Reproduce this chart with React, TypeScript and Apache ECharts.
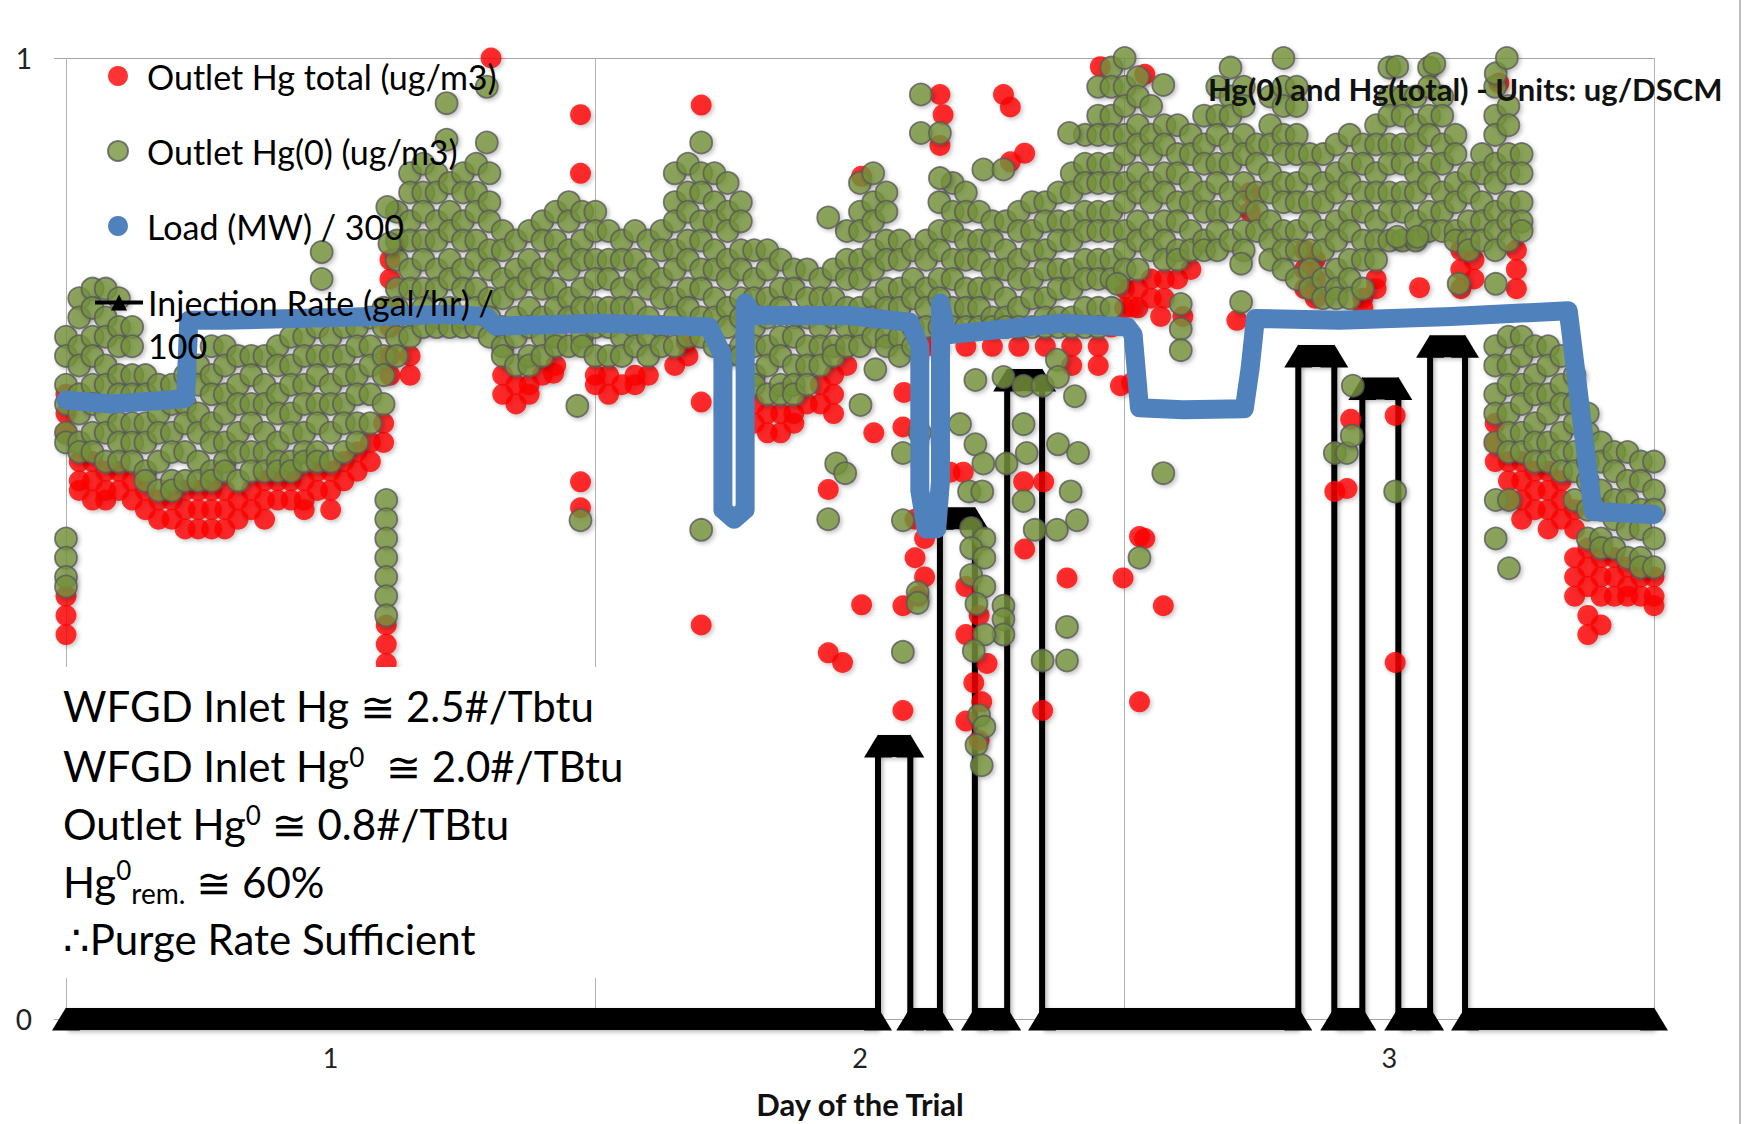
import React, { useEffect, useRef } from 'react';
import * as echarts from 'echarts';

// ---------- axis categories / ticks ----------
const dayLabels = ['1', '2', '3'];
const yMin = 0;
const yMax = 1;

// ---------- Outlet Hg(0) (ug/m3): columns [day, values read top->bottom] ----------
const hg0ColsDay1: [number, number[]][] = [
  [0.000, [0.71, 0.69, 0.66, 0.64, 0.61, 0.60]],
  [0.000, [0.50, 0.48, 0.46, 0.45]],
  [0.025, [0.75, 0.73, 0.70, 0.68, 0.65, 0.63, 0.60, 0.59]],
  [0.050, [0.76, 0.74, 0.71, 0.69, 0.66, 0.64, 0.61, 0.59]],
  [0.075, [0.76, 0.73, 0.71, 0.68, 0.66, 0.63, 0.61, 0.58]],
  [0.100, [0.75, 0.72, 0.70, 0.67, 0.65, 0.62, 0.60, 0.58]],
  [0.125, [0.72, 0.70, 0.67, 0.65, 0.62, 0.60, 0.58]],
  [0.150, [0.67, 0.65, 0.62, 0.60, 0.57, 0.56]],
  [0.175, [0.66, 0.63, 0.61, 0.58, 0.55]],
  [0.200, [0.66, 0.64, 0.61, 0.59, 0.56, 0.55]],
  [0.225, [0.67, 0.64, 0.62, 0.59, 0.56]],
  [0.250, [0.68, 0.66, 0.63, 0.61, 0.58, 0.56]],
  [0.275, [0.70, 0.67, 0.65, 0.62, 0.60, 0.57, 0.56]],
  [0.300, [0.70, 0.68, 0.65, 0.63, 0.60, 0.58, 0.57]],
  [0.325, [0.69, 0.66, 0.64, 0.61, 0.59, 0.56]],
  [0.350, [0.69, 0.67, 0.64, 0.62, 0.59, 0.57]],
  [0.375, [0.69, 0.66, 0.64, 0.61, 0.59, 0.57]],
  [0.400, [0.70, 0.68, 0.65, 0.63, 0.60, 0.58, 0.57]],
  [0.425, [0.71, 0.68, 0.66, 0.63, 0.61, 0.58, 0.57]],
  [0.450, [0.71, 0.69, 0.66, 0.64, 0.61, 0.59, 0.58]],
  [0.475, [0.72, 0.69, 0.67, 0.64, 0.62, 0.59, 0.58]],
  [0.500, [0.71, 0.69, 0.66, 0.64, 0.61, 0.58]],
  [0.525, [0.72, 0.69, 0.67, 0.64, 0.62, 0.59]],
  [0.550, [0.72, 0.70, 0.67, 0.65, 0.62, 0.60]],
  [0.575, [0.73, 0.70, 0.68, 0.65, 0.62]],
  [0.600, [0.74, 0.72, 0.69, 0.67, 0.64]],
  [0.605, [0.54, 0.52, 0.50, 0.48, 0.46, 0.44, 0.42]],
  [0.625, [0.84, 0.81, 0.79, 0.76, 0.74, 0.71, 0.69]],
  [0.650, [0.88, 0.86, 0.83, 0.81, 0.78, 0.76, 0.73, 0.71]],
  [0.675, [0.89, 0.86, 0.84, 0.81, 0.79, 0.76, 0.74, 0.72]],
  [0.700, [0.88, 0.86, 0.83, 0.81, 0.78, 0.76, 0.73, 0.72]],
  [0.725, [0.87, 0.84, 0.82, 0.79, 0.77, 0.74, 0.72]],
  [0.750, [0.88, 0.86, 0.83, 0.81, 0.78, 0.76, 0.73, 0.72]],
  [0.775, [0.89, 0.86, 0.84, 0.81, 0.79, 0.76, 0.74, 0.72]],
  [0.800, [0.88, 0.85, 0.83, 0.80, 0.78, 0.75, 0.73, 0.71]],
  [0.825, [0.82, 0.80, 0.77, 0.75, 0.72, 0.70, 0.69]],
  [0.850, [0.81, 0.78, 0.76, 0.73, 0.71, 0.68]],
  [0.875, [0.82, 0.79, 0.77, 0.74, 0.72, 0.69, 0.68]],
  [0.900, [0.83, 0.81, 0.78, 0.76, 0.73, 0.71, 0.69]],
  [0.925, [0.84, 0.81, 0.79, 0.76, 0.74, 0.71, 0.70]],
  [0.950, [0.85, 0.83, 0.80, 0.78, 0.75, 0.73, 0.70]],
  [0.975, [0.84, 0.81, 0.79, 0.76, 0.74, 0.71, 0.70]],
];

const hg0ColsDay2: [number, number[]][] = [
  [1.000, [0.84, 0.82, 0.79, 0.77, 0.74, 0.72, 0.69]],
  [1.025, [0.82, 0.79, 0.77, 0.74, 0.72, 0.69]],
  [1.050, [0.81, 0.79, 0.76, 0.74, 0.71, 0.69]],
  [1.075, [0.82, 0.79, 0.77, 0.74, 0.72, 0.70]],
  [1.100, [0.81, 0.78, 0.76, 0.73, 0.71, 0.69]],
  [1.125, [0.82, 0.80, 0.77, 0.75, 0.72, 0.70]],
  [1.150, [0.88, 0.85, 0.83, 0.80, 0.78, 0.75, 0.73, 0.70]],
  [1.175, [0.89, 0.86, 0.84, 0.81, 0.79, 0.76, 0.74, 0.71]],
  [1.200, [0.88, 0.86, 0.83, 0.81, 0.78, 0.76, 0.73, 0.71]],
  [1.225, [0.88, 0.85, 0.83, 0.80, 0.78, 0.75, 0.73, 0.70]],
  [1.250, [0.87, 0.84, 0.82, 0.79, 0.77, 0.74, 0.72, 0.69]],
  [1.275, [0.85, 0.83, 0.80, 0.78, 0.75, 0.73, 0.70, 0.69]],
  [1.300, [0.80, 0.77, 0.75, 0.72, 0.70, 0.67, 0.66]],
  [1.325, [0.80, 0.78, 0.75, 0.73, 0.70, 0.68, 0.65]],
  [1.350, [0.79, 0.76, 0.74, 0.71, 0.69, 0.66, 0.65]],
  [1.375, [0.78, 0.76, 0.73, 0.71, 0.68, 0.66, 0.65]],
  [1.400, [0.78, 0.75, 0.73, 0.70, 0.68, 0.66]],
  [1.425, [0.77, 0.75, 0.72, 0.70, 0.68]],
  [1.450, [0.78, 0.75, 0.73, 0.70, 0.69]],
  [1.475, [0.82, 0.79, 0.77, 0.74, 0.72, 0.70]],
  [1.500, [0.87, 0.84, 0.82, 0.79, 0.77, 0.74, 0.72, 0.70]],
  [1.525, [0.88, 0.85, 0.83, 0.80, 0.78, 0.75, 0.73, 0.71]],
  [1.550, [0.86, 0.84, 0.81, 0.79, 0.76, 0.74, 0.71, 0.70]],
  [1.575, [0.81, 0.79, 0.76, 0.74, 0.71, 0.69]],
  [1.600, [0.80, 0.77, 0.75, 0.72, 0.70]],
  [1.625, [0.81, 0.79, 0.76, 0.74, 0.72]],
  [1.650, [0.85, 0.82, 0.80, 0.77, 0.75, 0.72]],
  [1.675, [0.87, 0.84, 0.82, 0.79, 0.77, 0.74, 0.72]],
  [1.700, [0.86, 0.84, 0.81, 0.79, 0.76, 0.74, 0.72]],
  [1.725, [0.84, 0.81, 0.79, 0.76, 0.74, 0.72]],
  [1.750, [0.83, 0.81, 0.78, 0.76, 0.73, 0.72]],
  [1.775, [0.83, 0.80, 0.78, 0.75, 0.73, 0.72]],
  [1.800, [0.84, 0.82, 0.79, 0.77, 0.74, 0.72]],
  [1.825, [0.85, 0.82, 0.80, 0.77, 0.75, 0.72]],
  [1.850, [0.85, 0.83, 0.80, 0.78, 0.75, 0.73, 0.72]],
  [1.875, [0.86, 0.83, 0.81, 0.78, 0.76, 0.73, 0.72]],
  [1.900, [0.88, 0.86, 0.83, 0.81, 0.78, 0.76, 0.73, 0.72]],
  [1.925, [0.92, 0.89, 0.87, 0.84, 0.82, 0.79, 0.77, 0.74, 0.72]],
  [1.950, [0.97, 0.94, 0.92, 0.89, 0.87, 0.84, 0.82, 0.79, 0.77, 0.74, 0.72]],
  [1.975, [0.99, 0.97, 0.94, 0.92, 0.89, 0.87, 0.84, 0.82, 0.79, 0.77, 0.74]],
];

const hg0ColsDay3: [number, number[]][] = [
  [2.000, [1.00, 0.97, 0.95, 0.92, 0.90, 0.87, 0.85, 0.82, 0.80, 0.78]],
  [2.025, [0.98, 0.96, 0.93, 0.91, 0.88, 0.86, 0.83, 0.81, 0.78]],
  [2.050, [0.95, 0.92, 0.90, 0.87, 0.85, 0.82, 0.80]],
  [2.075, [0.93, 0.91, 0.88, 0.86, 0.83, 0.81, 0.79]],
  [2.100, [0.93, 0.90, 0.88, 0.85, 0.83, 0.80, 0.79]],
  [2.125, [0.92, 0.90, 0.87, 0.85, 0.82, 0.80]],
  [2.150, [0.94, 0.91, 0.89, 0.86, 0.84, 0.81, 0.80]],
  [2.175, [0.97, 0.94, 0.92, 0.89, 0.87, 0.84, 0.82, 0.80]],
  [2.200, [0.99, 0.96, 0.94, 0.91, 0.89, 0.86, 0.84, 0.81]],
  [2.225, [0.97, 0.95, 0.92, 0.90, 0.87, 0.85, 0.82, 0.80]],
  [2.250, [0.91, 0.89, 0.86, 0.84, 0.82]],
  [2.275, [0.96, 0.93, 0.91, 0.88, 0.86, 0.83, 0.81, 0.79]],
  [2.300, [1.00, 0.97, 0.95, 0.92, 0.90, 0.87, 0.85, 0.82, 0.80, 0.78]],
  [2.325, [0.97, 0.95, 0.92, 0.90, 0.87, 0.85, 0.82, 0.80, 0.77]],
  [2.350, [0.90, 0.88, 0.85, 0.83, 0.80, 0.78, 0.76]],
  [2.375, [0.90, 0.87, 0.85, 0.82, 0.80, 0.77, 0.75]],
  [2.400, [0.91, 0.88, 0.86, 0.83, 0.81, 0.78, 0.76, 0.75]],
  [2.425, [0.92, 0.89, 0.87, 0.84, 0.82, 0.79, 0.77, 0.75]],
  [2.450, [0.91, 0.89, 0.86, 0.84, 0.81, 0.79, 0.76]],
  [2.475, [0.93, 0.91, 0.88, 0.86, 0.83, 0.81, 0.79]],
  [2.500, [0.99, 0.96, 0.94, 0.91, 0.89, 0.86, 0.84, 0.81]],
  [2.525, [0.96, 0.94, 0.91, 0.89, 0.86, 0.84, 0.81]],
  [2.550, [0.96, 0.93, 0.91, 0.88, 0.86, 0.83, 0.81]],
  [2.575, [0.99, 0.97, 0.94, 0.92, 0.89, 0.87, 0.84, 0.82]],
  [2.600, [0.96, 0.94, 0.91, 0.89, 0.86, 0.84, 0.82]],
  [2.625, [0.92, 0.90, 0.87, 0.85, 0.82, 0.81]],
  [2.650, [0.88, 0.86, 0.83, 0.81, 0.80]],
  [2.675, [0.90, 0.88, 0.85, 0.83, 0.81]],
  [2.700, [0.97, 0.94, 0.92, 0.89, 0.87, 0.84, 0.82, 0.80]],
  [2.725, [0.95, 0.93, 0.90, 0.88, 0.85, 0.83, 0.81]],
  [2.750, [0.90, 0.88, 0.85, 0.83, 0.82]],
  [2.700, [0.70, 0.68, 0.65, 0.63, 0.60]],
  [2.725, [0.71, 0.68, 0.66, 0.63, 0.61, 0.59]],
  [2.750, [0.71, 0.69, 0.66, 0.64, 0.61, 0.59]],
  [2.775, [0.70, 0.67, 0.65, 0.62, 0.60, 0.58]],
  [2.800, [0.70, 0.68, 0.65, 0.63, 0.60, 0.58]],
  [2.825, [0.69, 0.66, 0.64, 0.61, 0.59, 0.57]],
  [2.850, [0.67, 0.64, 0.62, 0.59, 0.57, 0.54]],
  [2.875, [0.63, 0.61, 0.58, 0.56, 0.53, 0.50]],
  [2.900, [0.60, 0.58, 0.55, 0.53, 0.50, 0.49]],
  [2.925, [0.59, 0.57, 0.54, 0.52, 0.49]],
  [2.950, [0.59, 0.56, 0.54, 0.51, 0.48]],
  [2.975, [0.58, 0.56, 0.53, 0.51, 0.48, 0.47]],
  [3.000, [0.58, 0.55, 0.53, 0.50, 0.47]],
];

// isolated Hg(0) readings [day, value]
const hg0Points: [number, number][] = [
  [0.483, 0.798], [0.483, 0.770], [0.607, 0.845], [0.611, 0.807], [0.719, 0.953], [0.719, 0.915],
  [0.795, 0.970], [0.795, 0.912], [0.966, 0.638], [0.972, 0.519], [1.200, 0.912], [1.200, 0.509],
  [1.440, 0.834], [1.440, 0.520], [1.455, 0.578], [1.472, 0.568], [1.501, 0.639], [1.529, 0.676],
  [1.581, 0.589], [1.581, 0.519], [1.581, 0.382], [1.609, 0.444], [1.609, 0.433], [1.613, 0.610],
  [1.615, 0.962], [1.615, 0.922], [1.651, 0.922], [1.651, 0.875], [1.689, 0.619], [1.706, 0.549],
  [1.718, 0.665], [1.718, 0.598], [1.731, 0.549], [1.733, 0.578], [1.733, 0.884], [1.771, 0.884],
  [1.771, 0.668], [1.771, 0.430], [1.771, 0.416], [1.771, 0.400], [1.777, 0.578], [1.809, 0.659],
  [1.809, 0.619], [1.809, 0.539], [1.815, 0.589], [1.830, 0.509], [1.845, 0.659], [1.845, 0.373],
  [1.872, 0.686], [1.872, 0.509], [1.874, 0.668], [1.874, 0.598], [1.891, 0.373], [1.891, 0.408],
  [1.895, 0.922], [1.898, 0.549], [1.906, 0.648], [1.910, 0.519], [1.912, 0.589], [1.986, 0.765],
  [2.028, 0.480], [2.073, 0.972], [2.073, 0.568], [2.106, 0.744], [2.106, 0.718], [2.106, 0.696],
  [2.220, 0.786], [2.220, 0.746], [2.397, 0.589], [2.420, 0.589], [2.429, 0.607], [2.431, 0.659],
  [2.511, 0.549], [2.515, 0.991], [2.515, 0.814], [2.553, 0.814], [2.585, 0.994], [2.631, 0.765],
  [2.701, 0.765], [2.701, 0.984], [2.722, 1.000], [2.701, 0.540], [2.726, 0.540], [2.701, 0.500],
  [2.726, 0.469],
  [1.710, 0.511], [1.735, 0.500], [1.710, 0.490], [1.735, 0.480], [1.710, 0.462], [1.735, 0.450],
  [1.720, 0.432], [1.735, 0.400], [1.715, 0.383], [1.725, 0.316], [1.735, 0.304], [1.720, 0.285],
  [1.730, 0.264],
];

// ---------- Outlet Hg total (ug/m3) ----------
const hgTotalCols: [number, number[]][] = [
  [0.000, [0.65, 0.63, 0.61]], [0.000, [0.44, 0.42, 0.40]],
  [0.025, [0.58, 0.56, 0.55]], [0.050, [0.58, 0.56, 0.54]], [0.075, [0.57, 0.55, 0.54]],
  [0.100, [0.57, 0.55]], [0.125, [0.56, 0.54]], [0.150, [0.55, 0.53]], [0.175, [0.54, 0.52]],
  [0.200, [0.54, 0.52]], [0.225, [0.55, 0.53, 0.51]], [0.250, [0.55, 0.53, 0.51]],
  [0.275, [0.55, 0.53, 0.51]], [0.300, [0.55, 0.53, 0.51]], [0.325, [0.54, 0.52]],
  [0.350, [0.55, 0.53]], [0.375, [0.56, 0.54, 0.52]], [0.400, [0.56, 0.54]], [0.425, [0.56, 0.54]],
  [0.450, [0.56, 0.54, 0.53]], [0.475, [0.57, 0.55]], [0.500, [0.57, 0.55, 0.53]],
  [0.525, [0.58, 0.56]], [0.550, [0.59, 0.57]], [0.575, [0.60, 0.58]], [0.600, [0.62, 0.60]],
  [0.605, [0.41, 0.39, 0.37]], [0.612, [0.79, 0.77, 0.74, 0.72, 0.69, 0.67]], [0.650, [0.69, 0.67]],
  [0.825, [0.67, 0.65]], [0.850, [0.66, 0.64]], [0.875, [0.66, 0.65]], [0.900, [0.67]], [0.925, [0.68]],
  [1.000, [0.67, 0.66]], [1.025, [0.67, 0.65]], [1.050, [0.66]], [1.075, [0.67, 0.66]], [1.100, [0.67]],
  [1.150, [0.68]], [1.175, [0.69]],
  [1.300, [0.64, 0.62]], [1.325, [0.63, 0.61]], [1.350, [0.63, 0.61]], [1.375, [0.63, 0.62]],
  [1.400, [0.64]], [1.425, [0.66, 0.64]], [1.450, [0.67, 0.65, 0.63]], [1.475, [0.68]],
  [1.625, [0.70]], [1.650, [0.70]], [1.700, [0.70]], [1.750, [0.70]], [1.800, [0.70]], [1.850, [0.70]],
  [1.900, [0.70, 0.68]], [1.950, [0.70, 0.68]], [1.975, [0.72]],
  [2.000, [0.76, 0.74]], [2.025, [0.76, 0.74]], [2.050, [0.77, 0.75]], [2.075, [0.77, 0.75]],
  [2.100, [0.77]], [2.125, [0.78]], [2.237, [0.86, 0.84]], [2.340, [0.80, 0.78, 0.76]],
  [2.360, [0.79, 0.77, 0.75]], [2.450, [0.75, 0.74]], [2.475, [0.77, 0.76]],
  [2.635, [0.80, 0.78, 0.76]], [2.660, [0.79, 0.77]], [2.740, [0.80, 0.78, 0.76]],
  [2.700, [0.62, 0.60, 0.58]], [2.725, [0.58, 0.56, 0.54]], [2.750, [0.58, 0.56, 0.54, 0.52]],
  [2.775, [0.57, 0.55, 0.53]], [2.800, [0.57, 0.55, 0.53, 0.51]], [2.825, [0.56, 0.54, 0.52]],
  [2.850, [0.53, 0.51, 0.48, 0.46, 0.44]], [2.875, [0.49, 0.47, 0.45, 0.42, 0.40]],
  [2.900, [0.48, 0.46, 0.44, 0.41]], [2.925, [0.48, 0.46, 0.44]], [2.950, [0.47, 0.45, 0.44]],
  [2.975, [0.46, 0.44]], [3.000, [0.46, 0.44, 0.43]],
];

const hgTotalPoints: [number, number][] = [
  [0.803, 1.000], [0.972, 0.941], [0.972, 0.880], [0.972, 0.559], [0.972, 0.532], [0.921, 0.672],
  [1.200, 0.951], [1.200, 0.642], [1.172, 0.704], [1.200, 0.410], [1.440, 0.551], [1.440, 0.381],
  [1.467, 0.371], [1.503, 0.877], [1.503, 0.431], [1.526, 0.610], [1.581, 0.616], [1.581, 0.430],
  [1.581, 0.321], [1.583, 0.652], [1.651, 0.962], [1.657, 0.941], [1.651, 0.909], [1.670, 0.569],
  [1.695, 0.569], [1.771, 0.962], [1.784, 0.949], [1.811, 0.901], [1.784, 0.892], [1.809, 0.559],
  [1.847, 0.559], [1.811, 0.489], [1.845, 0.321], [1.891, 0.459], [1.954, 0.991], [1.992, 0.659],
  [1.997, 0.459], [2.028, 0.502], [2.028, 0.330], [2.038, 0.983], [2.038, 0.500], [2.013, 0.741],
  [2.068, 0.731], [2.110, 0.731], [2.013, 0.662], [2.073, 0.430], [2.212, 0.727], [2.397, 0.549],
  [2.420, 0.552], [2.427, 0.624], [2.511, 0.628], [2.511, 0.371], [2.557, 0.761], [2.707, 0.974],
  [1.604, 0.520], [1.622, 0.500], [1.604, 0.480], [1.622, 0.460], [1.610, 0.440],
  [1.700, 0.450], [1.725, 0.420], [1.700, 0.400], [1.740, 0.370], [1.715, 0.350], [1.730, 0.330],
  [1.700, 0.310], [1.725, 0.290],
];

// ---------- Load (MW) / 300 trace [day, value] ----------
const loadTrace: [number, number][] = [
  [0.000, 0.644], [0.086, 0.640], [0.192, 0.644], [0.226, 0.646], [0.232, 0.727], [0.297, 0.727],
  [0.508, 0.730], [0.719, 0.733], [0.793, 0.731], [0.812, 0.721], [1.014, 0.724], [1.215, 0.720],
  [1.241, 0.690], [1.241, 0.530], [1.262, 0.520], [1.283, 0.530], [1.283, 0.745], [1.300, 0.732],
  [1.478, 0.732], [1.594, 0.725], [1.613, 0.700], [1.613, 0.550], [1.625, 0.510], [1.645, 0.510],
  [1.652, 0.560], [1.652, 0.745], [1.665, 0.712], [1.773, 0.718], [1.879, 0.724], [2.005, 0.720],
  [2.016, 0.712], [2.028, 0.636], [2.110, 0.634], [2.226, 0.635], [2.237, 0.677], [2.247, 0.729],
  [2.406, 0.727], [2.617, 0.731], [2.838, 0.737], [2.885, 0.528], [3.000, 0.525],
];

// ---------- Injection Rate (gal/hr) / 100 [day, value] ----------
const injectionRate: [number, number][] = [
  [0.000, 0], [1.534, 0], [1.534, 0.284], [1.595, 0.284], [1.595, 0],
  [1.651, 0], [1.651, 0.521], [1.717, 0.521], [1.717, 0],
  [1.778, 0], [1.778, 0.665], [1.844, 0.665], [1.844, 0],
  [2.328, 0], [2.328, 0.690], [2.396, 0.690], [2.396, 0],
  [2.449, 0], [2.449, 0.656], [2.517, 0.656], [2.517, 0],
  [2.577, 0], [2.577, 0.700], [2.643, 0.700], [2.643, 0],
  [3.000, 0],
];

// ---------- annotation lines ----------
const noteLines = [
  'WFGD Inlet Hg ≅ 2.5#/Tbtu',
  'WFGD Inlet Hg{sup|0}  ≅ 2.0#/TBtu',
  'Outlet Hg{sup|0} ≅ 0.8#/TBtu',
  'Hg{sup|0}{sub|rem.} ≅ 60%',
  '∴Purge Rate Sufficient',
];

const NAME_TOTAL = 'Outlet Hg total (ug/m3)';
const NAME_HG0 = 'Outlet Hg(0) (ug/m3)';
const NAME_LOAD = 'Load (MW) / 300';
const NAME_INJ = 'Injection Rate (gal/hr) / 100';

const FONT = 'Lato, "Noto Sans", "DejaVu Sans", sans-serif';

export default function App() {
  const ref = useRef<HTMLDivElement>(null);

  useEffect(() => {
    if (!ref.current) return;
    const chart = echarts.init(ref.current, null, { renderer: 'svg' });

    const fromCols = (cols: [number, number[]][]) =>
      cols.flatMap(([d, vs]) => vs.map((v) => [d, v]));

    const hg0Data = [...fromCols(hg0ColsDay1), ...fromCols(hg0ColsDay2), ...fromCols(hg0ColsDay3), ...hg0Points];
    const totalData = [...fromCols(hgTotalCols), ...hgTotalPoints];

    // thick band along the horizontal runs of the injection series
    const band: any[] = [];
    for (let i = 0; i < injectionRate.length - 1; i++) {
      const a = injectionRate[i];
      const b = injectionRate[i + 1];
      if (a[1] === b[1]) {
        band.push([a[0], a[1]], [b[0], b[1]], ['-', '-']);
      }
    }

    const shadow = {
      shadowBlur: 4,
      shadowColor: 'rgba(0,0,0,0.28)',
      shadowOffsetX: 2,
      shadowOffsetY: 2,
    };

    const noteY = [706, 766, 824, 882, 939];

    const option: any = {
      animation: false,
      backgroundColor: '#ffffff',
      textStyle: { fontFamily: FONT },
      title: {
        text: 'Hg(0) and Hg(total) - Units: ug/DSCM',
        left: 1208,
        top: 73,
        padding: 0,
        z: 10,
        textStyle: { fontSize: 31, fontWeight: 'bold', color: '#111', fontFamily: FONT },
      },
      grid: { left: 66, right: 96, top: 58, bottom: 105, containLabel: false, outerBoundsMode: 'none' },
      xAxis: [
        { type: 'value', min: 0, max: 3, show: false },
        {
          type: 'category',
          data: dayLabels,
          position: 'bottom',
          boundaryGap: true,
          axisLine: { show: false },
          axisTick: { show: false },
          axisLabel: { fontSize: 27, color: '#222', margin: 25, fontFamily: FONT },
          splitLine: { show: true, interval: 0, lineStyle: { color: '#b3b3b3', width: 1 } },
          name: 'Day of the Trial',
          nameLocation: 'middle',
          nameGap: 69,
          nameTextStyle: { fontSize: 31, fontWeight: 'bold', color: '#111', fontFamily: FONT },
        },
      ],
      yAxis: {
        type: 'value',
        min: yMin,
        max: yMax,
        interval: 1,
        axisLine: { show: false },
        axisTick: { show: true, length: 12, lineStyle: { color: '#a6a6a6' } },
        axisLabel: { fontSize: 28, color: '#222', margin: 34, fontFamily: FONT },
        splitLine: { show: true, lineStyle: { color: '#a6a6a6', width: 1 } },
      },
      legend: [
        {
          orient: 'vertical',
          left: 107,
          top: 59,
          padding: 0,
          z: 10,
          itemWidth: 48,
          itemHeight: 20,
          itemGap: 41,
          selectedMode: false,
          data: [
            { name: NAME_TOTAL, icon: 'circle' },
            { name: NAME_HG0, icon: 'circle' },
            { name: NAME_LOAD, icon: 'circle' },
          ],
          textStyle: { fontSize: 34, color: '#000', fontFamily: FONT },
        },
        {
          orient: 'vertical',
          left: 93,
          top: 238,
          padding: 0,
          z: 10,
          itemWidth: 48,
          itemHeight: 20,
          selectedMode: false,
          data: [{ name: NAME_INJ, lineStyle: { width: 4 } }],
          formatter: () => '\nInjection Rate (gal/hr) /\n100',
          textStyle: { fontSize: 34, color: '#000', lineHeight: 43, fontFamily: FONT },
        },
      ],
      series: [
        {
          name: 'injection-band',
          type: 'line',
          xAxisIndex: 0,
          data: band,
          symbol: 'none',
          showSymbol: false,
          connectNulls: false,
          clip: false,
          silent: true,
          z: 1,
          lineStyle: { color: '#000', width: 22, cap: 'butt', ...shadow },
        },
        {
          name: NAME_INJ,
          type: 'line',
          xAxisIndex: 0,
          data: injectionRate,
          symbol: 'triangle',
          symbolSize: [28, 23],
          showSymbol: true,
          showAllSymbol: true,
          clip: false,
          z: 1,
          itemStyle: { color: '#000' },
          lineStyle: { color: '#000', width: 6, ...shadow },
        },
        {
          name: NAME_TOTAL,
          type: 'scatter',
          xAxisIndex: 0,
          data: totalData,
          symbol: 'circle',
          symbolSize: 21,
          clip: false,
          z: 2,
          itemStyle: { color: '#ff0000', ...shadow },
        },
        {
          name: NAME_HG0,
          type: 'scatter',
          xAxisIndex: 0,
          data: hg0Data,
          symbol: 'circle',
          symbolSize: 22,
          clip: false,
          z: 3,
          itemStyle: { color: '#77933c', borderColor: '#5a5a5a', borderWidth: 1.8, ...shadow },
        },
        {
          name: NAME_LOAD,
          type: 'line',
          xAxisIndex: 0,
          data: loadTrace,
          symbol: 'none',
          showSymbol: false,
          clip: false,
          z: 4,
          itemStyle: { color: '#4f81bd' },
          lineStyle: { color: '#4f81bd', width: 19, cap: 'round', join: 'round' },
        },
      ],
      graphic: [
        {
          type: 'rect',
          z: 100,
          shape: { x: 30, y: 667, width: 630, height: 311 },
          style: { fill: '#ffffff' },
          silent: true,
        },
        ...noteLines.map((t, i) => ({
          type: 'text',
          z: 101,
          x: 63,
          y: noteY[i],
          style: {
            text: t,
            fill: '#000',
            font: `42px ${FONT}`,
            fontSize: 42,
            fontFamily: FONT,
            verticalAlign: 'middle',
            align: 'left',
            rich: {
              sup: { fontSize: 26, fontFamily: FONT, fill: '#000', verticalAlign: 'top', padding: [0, 0, 18, 0] },
              sub: { fontSize: 28, fontFamily: FONT, fill: '#000', verticalAlign: 'bottom', padding: [22, 0, 0, 0] },
            },
          },
        })),
        {
          type: 'line',
          z: 5,
          shape: { x1: 1740, y1: 0, x2: 1740, y2: 1124 },
          style: { stroke: '#bdbdbd', lineWidth: 2 },
        },
      ],
    };

    chart.setOption(option);
    return () => chart.dispose();
  }, []);

  return (
    <div
      ref={ref}
      style={{ position: 'absolute', left: 0, top: 0, width: 1750, height: 1124, background: '#fff' }}
    />
  );
}
